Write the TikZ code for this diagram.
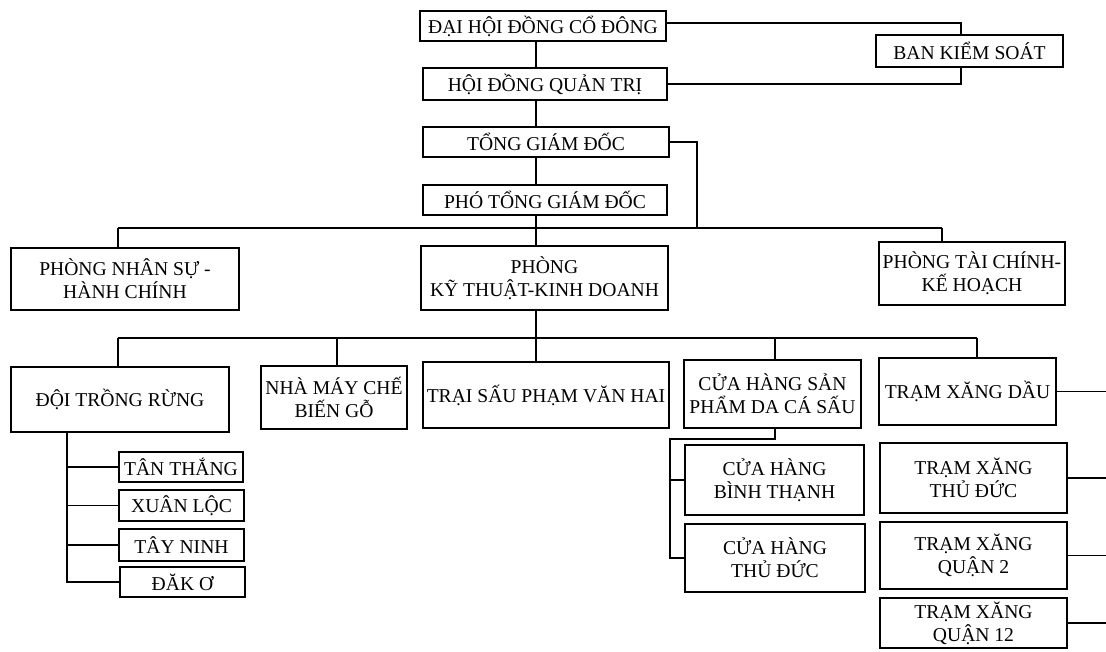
\documentclass[tikz,border=0pt]{standalone}
\usepackage{fontspec}
\setmainfont{Liberation Serif}
\begin{document}
\begin{tikzpicture}[x=1pt,y=1pt]
\tikzstyle{every node}+=[inner sep=0pt]
\tikzstyle{box}=[draw,line width=2.2pt,fill=white,align=center,font=\fontsize{19.6}{23}\selectfont]
\tikzstyle{link}=[line width=1.1pt]
\useasboundingbox (0,0) rectangle (1106,-651);
% top of the chart
\node[box,minimum width=246pt,minimum height=30pt] (dhd) at (543,-26) {ĐẠI HỘI ĐỒNG CỔ ĐÔNG};
\node[box,minimum width=244pt,minimum height=32pt] (hdqt) at (545,-84) {HỘI ĐỒNG QUẢN TRỊ};
\node[box,minimum width=246pt,minimum height=30pt] (tgd) at (546,-142) {TỔNG GIÁM ĐỐC};
\node[box,minimum width=244pt,minimum height=30pt] (ptgd) at (545,-200) {PHÓ TỔNG GIÁM ĐỐC};
% departments
\node[box,minimum width=228pt,minimum height=62pt] (pns) at (125,-279) {PHÒNG NHÂN SỰ -\\HÀNH CHÍNH};
\node[box,minimum width=247pt,minimum height=64pt] (pkt) at (544.5,-278) {PHÒNG\\KỸ THUẬT-KINH DOANH};
\node[box,minimum width=186pt,minimum height=63pt] (ptc) at (972,-273.5) {PHÒNG TÀI CHÍNH-\\KẾ HOẠCH};
% units
\node[box,minimum width=218pt,minimum height=65pt] (dtr) at (120,-399.5) {ĐỘI TRỒNG RỪNG};
\node[box,minimum width=146pt,minimum height=63pt] (nmc) at (334,-397.5) {NHÀ MÁY CHẾ\\BIẾN GỖ};
\node[box,minimum width=246pt,minimum height=66pt] (tsp) at (546,-395) {TRẠI SẤU PHẠM VĂN HAI};
\node[box,minimum width=177pt,minimum height=68pt] (chs) at (772.5,-394) {CỬA HÀNG SẢN\\PHẨM DA CÁ SẤU};
\node[box,minimum width=177pt,minimum height=67pt] (txd) at (967.5,-391.5) {TRẠM XĂNG DẦU};
% forest teams
\node[box,minimum width=124pt,minimum height=30pt] (tan) at (181,-467) {TÂN THẮNG};
\node[box,minimum width=125pt,minimum height=31pt] (xuan) at (181.5,-505.5) {XUÂN LỘC};
\node[box,minimum width=125pt,minimum height=32pt] (tay) at (181.5,-545) {TÂY NINH};
\node[box,minimum width=125pt,minimum height=30pt] (dak) at (182.5,-582) {ĐĂK Ơ};
% shops and stations
\node[box,minimum width=179pt,minimum height=70pt] (chbt) at (774.5,-480) {CỬA HÀNG\\BÌNH THẠNH};
\node[box,minimum width=180pt,minimum height=68pt] (chtd) at (775,-558) {CỬA HÀNG\\THỦ ĐỨC};
\node[box,minimum width=187pt,minimum height=70pt] (txtd) at (973.5,-478) {TRẠM XĂNG\\THỦ ĐỨC};
\node[box,minimum width=187pt,minimum height=67pt] (txq2) at (973.5,-555.5) {TRẠM XĂNG\\QUẬN 2};
\node[box,minimum width=187pt,minimum height=50pt] (txq12) at (973.5,-623) {TRẠM XĂNG\\QUẬN 12};
% helper points
\coordinate (spine) at (536,0);
\coordinate (ks) at (961,-23);
\coordinate (tgdr) at (697,-228);
\coordinate (b1l) at (118,-228);
\coordinate (b1r) at (942,-228);
\coordinate (b2l) at (118,-338);
\coordinate (b2r) at (977,-338);
\coordinate (nmcx) at (337,0);
\coordinate (chsx) at (775,0);
\coordinate (chsbus) at (670,-439);
\coordinate (dtrx) at (67,0);
\coordinate (edge) at (1106,0);
% connectors
\draw[link] (dhd.east |- ks) -- (ks) -- (ks |- hdqt.east) -- (hdqt.east);
\draw[link] (dhd.south -| spine) -- (hdqt.north -| spine);
\draw[link] (hdqt.south -| spine) -- (tgd.north -| spine);
\draw[link] (tgd.south -| spine) -- (ptgd.north -| spine);
\draw[link] (ptgd.south -| spine) -- (pkt.north -| spine);
\draw[link] (tgd.east) -| (tgdr);
\draw[link] (b1l) -- (b1r);
\draw[link] (b1l) -- (b1l |- pns.north);
\draw[link] (b1r) -- (b1r |- ptc.north);
\draw[link] (pkt.south -| spine) -- (spine |- b2l);
\draw[link] (b2l) -- (b2r);
\draw[link] (b2l) -- (b2l |- dtr.north);
\draw[link] (nmcx |- b2l) -- (nmcx |- nmc.north);
\draw[link] (spine |- b2l) -- (spine |- tsp.north);
\draw[link] (chsx |- b2l) -- (chsx |- chs.north);
\draw[link] (b2r) -- (b2r |- txd.north);
\draw[link] (chsx |- chs.south) |- (chsbus) |- (chtd.west);
\draw[link] (chsbus |- chbt.west) -- (chbt.west);
\draw[link] (dtrx |- dtr.south) |- (dak.west);
\draw[link] (dtrx |- tan.west) -- (tan.west);
\draw[link] (dtrx |- xuan.west) -- (xuan.west);
\draw[link] (dtrx |- tay.west) -- (tay.west);
\draw[link] (txd.east) -- (txd.east -| edge);
\draw[link] (txtd.east) -- (txtd.east -| edge);
\draw[link] (txq2.east) -- (txq2.east -| edge);
\draw[link] (txq12.east) -- (txq12.east -| edge);
% audit board sits over the line
\node[box,minimum width=187pt,minimum height=32pt] (bks) at (969.5,-51) {BAN KIỂM SOÁT};
\end{tikzpicture}
\end{document}
